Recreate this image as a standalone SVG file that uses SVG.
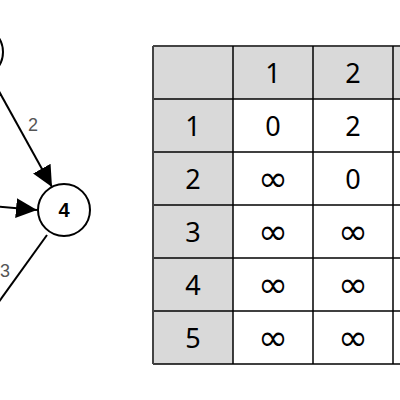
<svg xmlns="http://www.w3.org/2000/svg" width="400" height="400" viewBox="0 0 400 400">
<defs>
<marker id="arr" markerUnits="userSpaceOnUse" markerWidth="22" markerHeight="20" viewBox="0 0 22 20" refX="21" refY="10" orient="auto">
<path d="M0,0 L21,10 L0,20 Z" fill="#000"/>
</marker>
<style>
.node{fill:#fff;stroke:#000;stroke-width:2}
.edge{stroke:#000;stroke-width:2;fill:none}
.nl{font-family:"Liberation Sans",Arial,sans-serif;font-size:20px;font-weight:bold;text-anchor:middle}
.el{font-family:"Liberation Sans",Arial,sans-serif;font-size:18px;fill:#555;text-anchor:middle}
.hd{fill:#d9d9d9}
.cell{fill:#fff}
.grid{stroke:#000;stroke-width:1.5;fill:none}
.t{font-family:"Noto Sans","Liberation Sans",sans-serif;font-size:27px;text-anchor:middle;fill:#000}
.inf{font-family:"DejaVu Sans",sans-serif;font-size:36px;text-anchor:middle;fill:#000}
</style>
</defs>
<g id="connectors">
<line class="edge" x1="-10" y1="75" x2="52" y2="187" marker-end="url(#arr)"/>
<line class="edge" x1="-40" y1="203" x2="37" y2="210" marker-end="url(#arr)"/>
<line class="edge" x1="47" y1="235" x2="-20" y2="328"/>
<text class="el" x="33" y="131">2</text>
<text class="el" x="5" y="277">3</text>
</g>
<g id="node-top">
<circle class="node" cx="-23" cy="52" r="26"/>
</g>
<g id="node-4">
<circle class="node" cx="64" cy="210" r="26"/>
<text class="nl" x="64" y="217">4</text>
</g>
<g id="table">
<rect class="hd" x="153" y="46" width="247" height="53"/>
<rect class="hd" x="153" y="99" width="80" height="265"/>
<rect class="cell" x="233" y="99" width="167" height="265"/>
<g class="grid">
<line x1="153" y1="46" x2="400" y2="46" stroke="#444" stroke-width="2"/>
<line x1="153" y1="99" x2="400" y2="99"/>
<line x1="153" y1="152" x2="400" y2="152"/>
<line x1="153" y1="205" x2="400" y2="205"/>
<line x1="153" y1="258" x2="400" y2="258"/>
<line x1="153" y1="311" x2="400" y2="311"/>
<line x1="153" y1="364" x2="400" y2="364"/>
<line x1="153" y1="46" x2="153" y2="364" stroke="#444" stroke-width="2"/>
<line x1="233" y1="46" x2="233" y2="364"/>
<line x1="313" y1="46" x2="313" y2="364"/>
<line x1="393" y1="46" x2="393" y2="364"/>
</g>
<text class="t" x="273" y="83">1</text>
<text class="t" x="353" y="83">2</text>
<text class="t" x="193" y="136">1</text>
<text class="t" x="193" y="189">2</text>
<text class="t" x="193" y="242">3</text>
<text class="t" x="193" y="295">4</text>
<text class="t" x="193" y="348">5</text>
<text class="t" x="273" y="136">0</text>
<text class="t" x="353" y="136">2</text>
<text class="inf" x="273" y="191">∞</text>
<text class="t" x="353" y="189">0</text>
<text class="inf" x="273" y="244">∞</text>
<text class="inf" x="353" y="244">∞</text>
<text class="inf" x="273" y="297">∞</text>
<text class="inf" x="353" y="297">∞</text>
<text class="inf" x="273" y="350">∞</text>
<text class="inf" x="353" y="350">∞</text>
</g>
</svg>
